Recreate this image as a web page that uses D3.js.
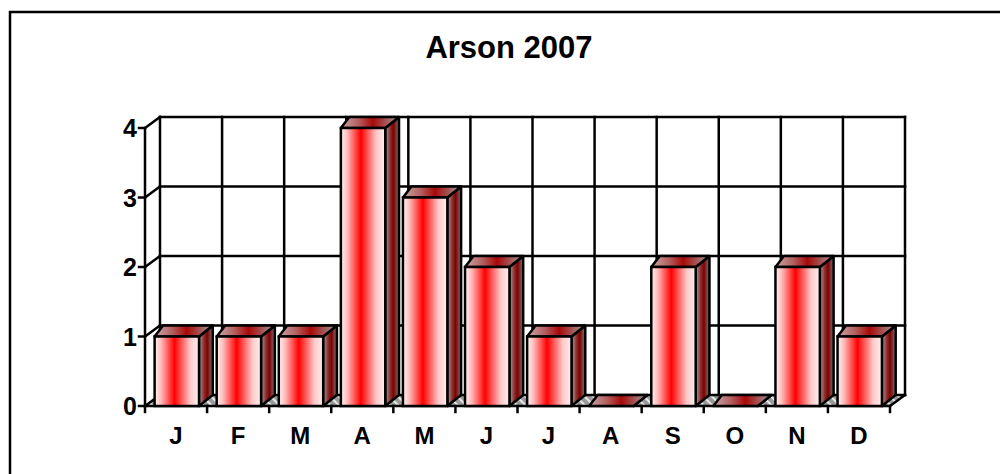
<!DOCTYPE html>
<html>
<head>
<meta charset="utf-8">
<script src="https://cdnjs.cloudflare.com/ajax/libs/d3/7.8.5/d3.min.js"></script>
<style>
  body { margin: 0; background: #fff; }
  svg { display: block; font-family: "Liberation Sans", Arial, sans-serif; }
</style>
</head>
<body>
<svg id="chart" width="1000" height="474"></svg>
<script>
'use strict';

// chart data
var title = "Arson 2007";
var months = ["J", "F", "M", "A", "M", "J", "J", "A", "S", "O", "N", "D"];
var counts = [1, 1, 1, 4, 3, 2, 1, 0, 2, 0, 2, 1];
var yTicks = [0, 1, 2, 3, 4];

var svg = d3.select("#chart");

// depth of the 3d box (offset of back wall from front plane)
var dx = 15, dy = -11;

var x = d3.scaleBand().domain(d3.range(months.length)).range([145, 890]).padding(0);
var y = d3.scaleLinear().domain([0, 4]).range([406, 128]);
var bw = x.bandwidth();

// gradients
var defs = svg.append("defs");
function grad(id, stops){
	var g = defs.append("linearGradient").attr("id", id)
		.attr("x1", "0%").attr("x2", "100%").attr("y1", "0%").attr("y2", "0%");
	stops.forEach(function(s){
		g.append("stop").attr("offset", s[0]).attr("stop-color", s[1]);
	});
}
grad("frontGrad", [["0%", "#fff4f4"], ["15%", "#ffb8b8"], ["45%", "#ff0000"], ["80%", "#ffc8c8"], ["100%", "#fff0f0"]]);
grad("topGrad", [["0%", "#c8a8a8"], ["30%", "#b46060"], ["55%", "#a80808"], ["100%", "#a0a0a0"]]);
grad("sideGrad", [["0%", "#b0a0a0"], ["35%", "#8c3030"], ["60%", "#800000"], ["100%", "#787878"]]);

var hatch = defs.append("pattern").attr("id", "floorHatch")
	.attr("patternUnits", "userSpaceOnUse").attr("width", 6).attr("height", 6)
	.attr("patternTransform", "rotate(-45)");
hatch.append("rect").attr("width", 6).attr("height", 6).attr("fill", "#9a9a9a");
hatch.append("rect").attr("width", 2).attr("height", 6).attr("fill", "#e8e8e8");

// outer border (right and bottom run off the picture)
svg.append("rect")
	.attr("x", 10).attr("y", 12).attr("width", 1000).attr("height", 480)
	.attr("fill", "none").attr("stroke", "#000").attr("stroke-width", 2.5);

// title
svg.append("text")
	.attr("x", 509).attr("y", 58)
	.attr("text-anchor", "middle")
	.attr("font-size", 31).attr("font-weight", "bold")
	.text(title);

var x0 = x.range()[0], x1 = x.range()[1];
var g = svg.append("g").attr("stroke", "#000").attr("stroke-width", 2.5).attr("stroke-linecap", "square");

// floor
g.append("polygon")
	.attr("points", [[x0, y(0)], [x1, y(0)], [x1 + dx, y(0) + dy], [x0 + dx, y(0) + dy]].join(" "))
	.attr("fill", "url(#floorHatch)").attr("stroke", "none");

// back wall grid
g.selectAll(".hgrid").data(yTicks).enter().append("line")
	.attr("class", "hgrid")
	.attr("x1", x0 + dx).attr("x2", x1 + dx)
	.attr("y1", function(d){ return y(d) + dy; })
	.attr("y2", function(d){ return y(d) + dy; });
g.selectAll(".vgrid").data(d3.range(months.length + 1)).enter().append("line")
	.attr("class", "vgrid")
	.attr("x1", function(i){ return x0 + i * bw + dx; })
	.attr("x2", function(i){ return x0 + i * bw + dx; })
	.attr("y1", y(4) + dy).attr("y2", y(0) + dy);

// side wall diagonals
g.selectAll(".diag").data(yTicks).enter().append("line")
	.attr("class", "diag")
	.attr("x1", x0).attr("x2", x0 + dx)
	.attr("y1", function(d){ return y(d); })
	.attr("y2", function(d){ return y(d) + dy; });
g.append("line")
	.attr("x1", x1).attr("x2", x1 + dx)
	.attr("y1", y(0)).attr("y2", y(0) + dy);

// front axes
g.append("line").attr("x1", x0).attr("x2", x0).attr("y1", y(0)).attr("y2", y(4));
g.append("line").attr("x1", x0).attr("x2", x1).attr("y1", y(0)).attr("y2", y(0));
g.selectAll(".ytick").data(yTicks).enter().append("line")
	.attr("x1", x0 - 6).attr("x2", x0)
	.attr("y1", function(d){ return y(d); }).attr("y2", function(d){ return y(d); });
g.selectAll(".xtick").data(d3.range(months.length + 1)).enter().append("line")
	.attr("x1", function(i){ return x0 + i * bw; })
	.attr("x2", function(i){ return x0 + i * bw; })
	.attr("y1", y(0)).attr("y2", y(0) + 6);

// bars
function geom(d, i){
	var c = x(i);
	return {
		fl: c + 0.155 * bw, fr: c + 0.87 * bw,
		bl: c + dx + 0.05 * bw, br: c + dx + 0.85 * bw,
		top: y(d), bot: y(0)
	};
}
g.selectAll(".bar").data(counts).enter().append("g").attr("class", "bar")
	.each(function(d, i){
		var b = geom(d, i);
		var bar = d3.select(this);
		bar.append("polygon") // side face
			.attr("points", [[b.fr, b.top], [b.br, b.top + dy], [b.br, b.bot + dy], [b.fr, b.bot]].join(" "))
			.attr("fill", "url(#sideGrad)").attr("stroke-linejoin", "round");
		bar.append("polygon") // top face
			.attr("points", [[b.fl, b.top], [b.fr, b.top], [b.br, b.top + dy], [b.bl, b.top + dy]].join(" "))
			.attr("fill", "url(#topGrad)").attr("stroke-linejoin", "round");
		if (d > 0) {
			bar.append("rect") // front face
				.attr("x", b.fl).attr("y", b.top)
				.attr("width", b.fr - b.fl).attr("height", b.bot - b.top)
				.attr("fill", "url(#frontGrad)");
		}
	});

// labels
svg.selectAll(".ylab").data(yTicks).enter().append("text")
	.attr("x", 137).attr("y", function(d){ return y(d) + 9; })
	.attr("text-anchor", "end")
	.attr("font-size", 25).attr("font-weight", "bold")
	.text(function(d){ return d; });
svg.selectAll(".xlab").data(months).enter().append("text")
	.attr("x", function(d, i){ return x(i) + bw / 2; })
	.attr("y", 444)
	.attr("text-anchor", "middle")
	.attr("font-size", 24).attr("font-weight", "bold")
	.text(function(d){ return d; });
</script>
</body>
</html>
